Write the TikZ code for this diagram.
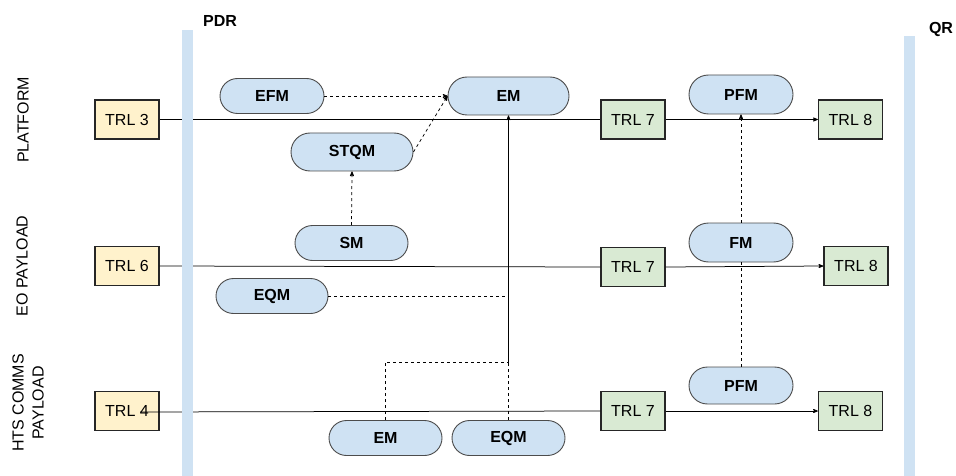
\documentclass[tikz,border=0pt]{standalone}
\usepackage{fontspec}
\setmainfont{Liberation Sans}
\usepackage{tikz}
\usetikzlibrary{arrows,shapes.misc}
\definecolor{barblue}{HTML}{CFE2F3}
\definecolor{modelblue}{HTML}{CFE2F3}
\definecolor{trlyellow}{HTML}{FFF2CC}
\definecolor{trlgreen}{HTML}{D9EAD3}

\begin{document}
\begin{tikzpicture}[x=1pt,y=-1pt,>=stealth',line width=0.75pt,
                    font=\fontsize{16}{18}\selectfont]
\tikzstyle{trl}=[draw=black!85,line width=1.3pt,minimum width=64pt,minimum height=39pt,inner sep=0pt]
  	\tikzstyle{early}=[trl,fill=trlyellow]
  	\tikzstyle{late}=[trl,fill=trlgreen]
  	\tikzstyle{model}=[rounded rectangle,draw=black!70,line width=0.9pt,fill=modelblue,
  	                   font=\fontsize{16}{18}\selectfont\bfseries,minimum height=35pt,minimum width=104pt,inner sep=0pt]
  	\tikzstyle{dep}=[dashed,->]
\useasboundingbox (0,0) rectangle (956,476);

% row labels
\node[rotate=90] (rowp) at (23,120) {PLATFORM};
\node[rotate=90] (rowe) at (22,266) {EO PAYLOAD};
\node[rotate=90,align=center,font=\fontsize{16}{20}\selectfont] (rowh) at (28,403) {HTS COMMS\\PAYLOAD};

% reviews
\node[font=\fontsize{16}{18}\selectfont\bfseries] (pdr) at (220,21) {PDR};
\node[font=\fontsize{16}{18}\selectfont\bfseries] (qr) at (941,29) {QR};

% TRL boxes
\node[early] (t3) at (127,119.5) {TRL 3};
\node[early] (t6) at (127,266) {TRL 6};
\node[early] (t4) at (127,411) {TRL 4};
\node[late] (p7) at (633,119.5) {TRL 7};
\node[late] (p8) at (850.5,119.5) {TRL 8};
\node[late] (e7) at (633,267) {TRL 7};
\node[late] (e8) at (856,266) {TRL 8};
\node[late] (h7) at (633,411) {TRL 7};
\node[late] (h8) at (850.5,411) {TRL 8};

% models
\node[model] (efm) at (272,96) {EFM};
\node[model,minimum width=122pt,minimum height=38pt] (stqm) at (352,152) {STQM};
\node[model,minimum width=121pt,minimum height=38pt] (ema) at (508.5,96) {EM};
\node[model,minimum width=113pt] (sm) at (351.5,243) {SM};
\node[model,minimum height=39pt] (pfma) at (741,94.5) {PFM};
\node[model,minimum height=39pt] (fm) at (741,242.5) {FM};
\node[model,minimum width=112pt] (eqma) at (272,296) {EQM};
\node[model,minimum height=37pt] (pfmb) at (741,385.5) {PFM};
\node[model,minimum width=113pt] (emb) at (385.5,438) {EM};
\node[model,minimum width=113pt] (eqmb) at (508.5,438) {EQM};

\coordinate (join) at (508.5,362);
\coordinate (h0) at (140,412);

% timelines
\draw (t3.east) -- (p7.west);
\draw[->] (p7.east) -- (p8.west);
\draw (t6.east) -- (e7.west);
\draw[->] (e7.east) -- (e8.west);
\draw (h0) -- (h7.west);
\draw[->] (h7.east) -- (h8.west);

% dependencies
\draw[dep] (efm.east) -- (ema.west);
\draw[dep] (stqm.east) -- (ema.west);
\draw[dep] (sm.north) -- (stqm.south);
\draw[->] (join) -- (ema.south);
\draw[dashed] (emb.north) |- (join);
\draw[dashed] (eqmb.north) -- (join);
\draw[dashed] (eqma.east) -- (eqma.east -| join);
\draw[dep] (fm.north) -- (pfma.south);
\draw[dashed] (pfmb.north) -- (fm.south);

% review bars
\fill[barblue] (182,30) rectangle (193,476);
\fill[barblue] (904,36) rectangle (915,476);

	\end{tikzpicture}
\end{document}
